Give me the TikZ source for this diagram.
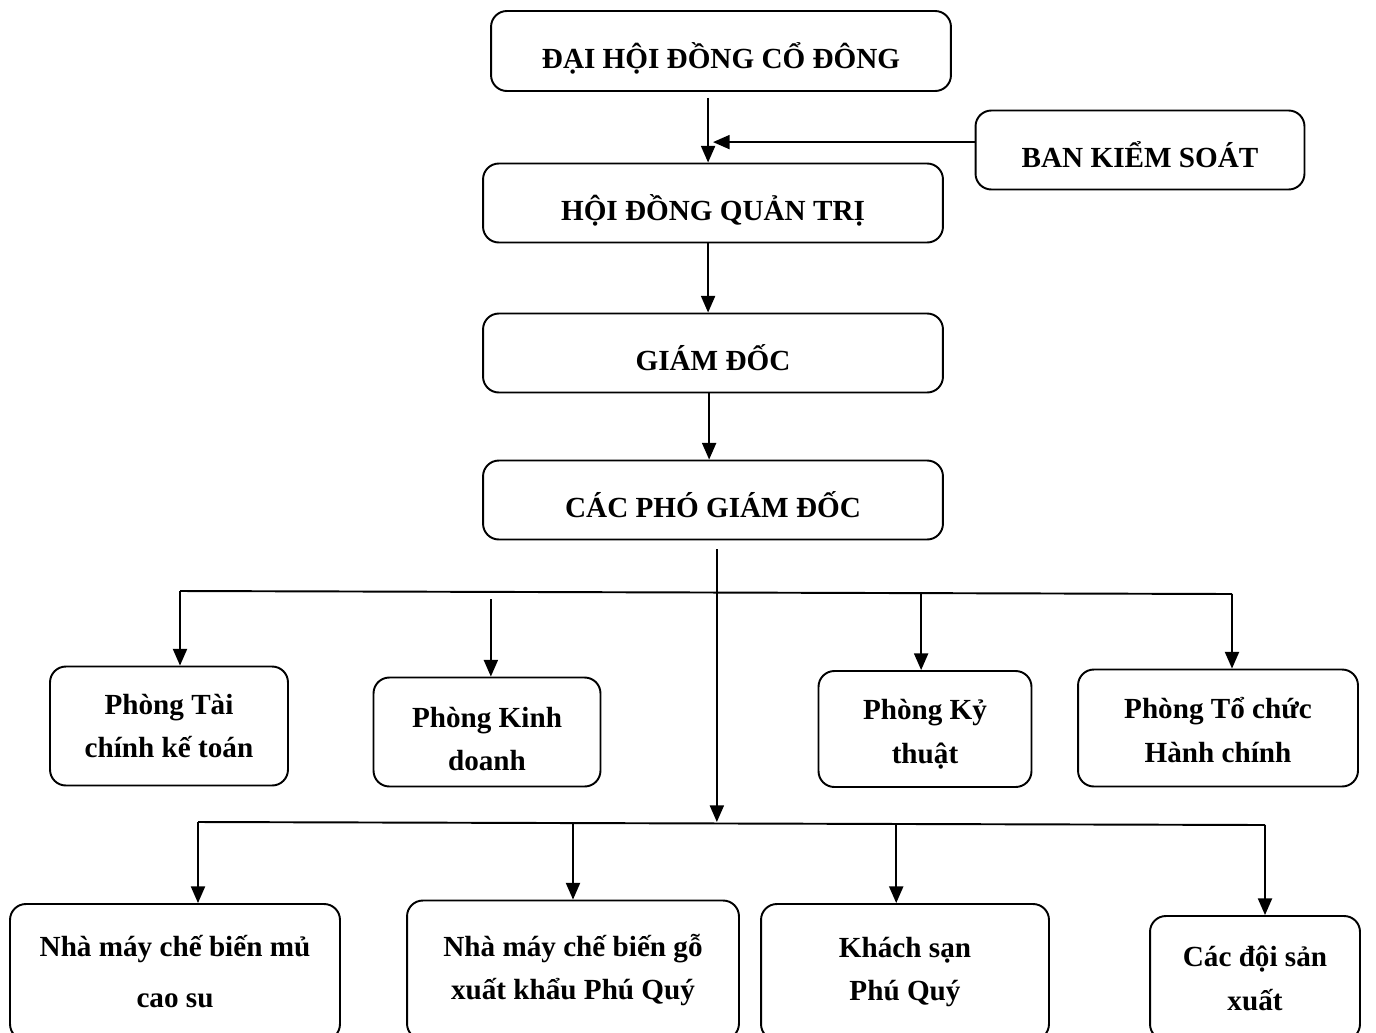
\documentclass[tikz,border=0pt]{standalone}
\usepackage{fontspec}
\setmainfont{Liberation Serif}
\usetikzlibrary{arrows.meta}
\tikzset{
  donvi/.style={draw,line width=1.1pt,rounded corners=9pt,align=center,inner sep=0pt,
    font=\fontsize{16.6}{25}\selectfont\bfseries},
  capbox/.style={donvi,text height=19.5pt,text depth=0pt},
  muiten/.style={line width=1.1pt,-{Triangle[length=9.5pt,width=8pt]}},
  noi/.style={line width=1.1pt}
}
\begin{document}
\begin{tikzpicture}[x=0.02cm,y=-0.02cm]
                \useasboundingbox (0,0) rectangle (1376,1032);
                \clip (0,0) rectangle (1376,1032);
                % cap lanh dao
                \node[capbox,minimum width=9.2cm,minimum height=1.6cm] (dhdcd) at (721,51) {ĐẠI HỘI ĐỒNG CỔ ĐÔNG};
                \node[capbox,minimum width=6.58cm,minimum height=1.58cm] (bks) at (1140,150) {BAN KIỂM SOÁT};
                \node[capbox,minimum width=9.2cm,minimum height=1.58cm] (hdqt) at (713,203) {HỘI ĐỒNG QUẢN TRỊ};
                \node[capbox,minimum width=9.2cm,minimum height=1.58cm] (gd) at (713,353) {GIÁM ĐỐC};
                \node[capbox,minimum width=9.2cm,minimum height=1.58cm] (cpgd) at (713,500) {CÁC PHÓ GIÁM ĐỐC};
                % cac phong
                \node[donvi,minimum width=4.76cm,minimum height=2.38cm] (ptc) at (169,726) {Phòng Tài\\chính kế toán};
                \node[donvi,minimum width=4.54cm,minimum height=2.18cm] (pkd) at (487,732) {\rule{0pt}{19.5pt}Phòng Kinh\\doanh};
                \node[donvi,minimum width=4.26cm,minimum height=2.32cm] (pkt) at (925,729) {\rule{0pt}{17.5pt}Phòng Kỷ\\thuật};
                \node[donvi,minimum width=5.6cm,minimum height=2.34cm] (ptchc) at (1218,728) {\rule{0pt}{14pt}Phòng Tổ chức\\Hành chính};
                % cac don vi san xuat
                \node[donvi,minimum width=6.6cm,minimum height=2.72cm] (nmcs) at (175,972) {Nhà máy chế biến mủ\\[4pt]cao su};
                \node[donvi,minimum width=6.64cm,minimum height=2.78cm] (nmg) at (573,970) {Nhà máy chế biến gỗ\\xuất khẩu Phú Quý};
                \node[donvi,minimum width=5.76cm,minimum height=2.72cm] (ks) at (905,972) {Khách sạn\\Phú Quý};
                \node[donvi,minimum width=4.2cm,minimum height=2.48cm] (cdsx) at (1255,978) {Các đội sản\\xuất};
                % duong noi
                \draw[muiten] ([xshift=-2.8pt,yshift=-3.4pt]dhdcd.south -| hdqt.north) -- ([xshift=-2.8pt]hdqt.north);
                \draw[muiten] ([yshift=4.5pt]bks.west) -- ([yshift=4.5pt]bks.west -| hdqt.north);
                \draw[muiten] ([xshift=-2.8pt]hdqt.south) -- ([xshift=-2.8pt]gd.north);
                \draw[muiten] ([xshift=-2.2pt]gd.south) -- ([xshift=-2.2pt]cpgd.north);
                \coordinate (b1L) at (180,591);
                \coordinate (b1R) at (1232,594);
                \coordinate (b2L) at (198,822);
                \coordinate (b2R) at (1265,825);
                \draw[muiten] ([xshift=2.2pt,yshift=-5pt]cpgd.south) -- ([xshift=2.2pt]cpgd.south |- b2L);
                \draw[noi] (b1L) -- (b1R);
                \draw[muiten] (b1L) -- (b1L |- ptc.north);
                \draw[muiten] ([xshift=2.2pt,yshift=-3pt]b1R -| pkd.north) -- ([xshift=2.2pt]pkd.north);
                \draw[muiten] ([xshift=-2.2pt]b1R -| pkt.north) -- ([xshift=-2.2pt]pkt.north);
                \draw[muiten] (b1R) -- (b1R |- ptchc.north);
                \draw[noi] (b2L) -- (b2R);
                \draw[muiten] (b2L) -- (b2L |- nmcs.north);
                \draw[muiten] (b2L -| nmg.north) -- (nmg.north);
                \draw[muiten] ([xshift=-5pt]b2R -| ks.north) -- ([xshift=-5pt]ks.north);
                \draw[muiten] (b2R) -- (b2R |- cdsx.north);
            \end{tikzpicture}
\end{document}
